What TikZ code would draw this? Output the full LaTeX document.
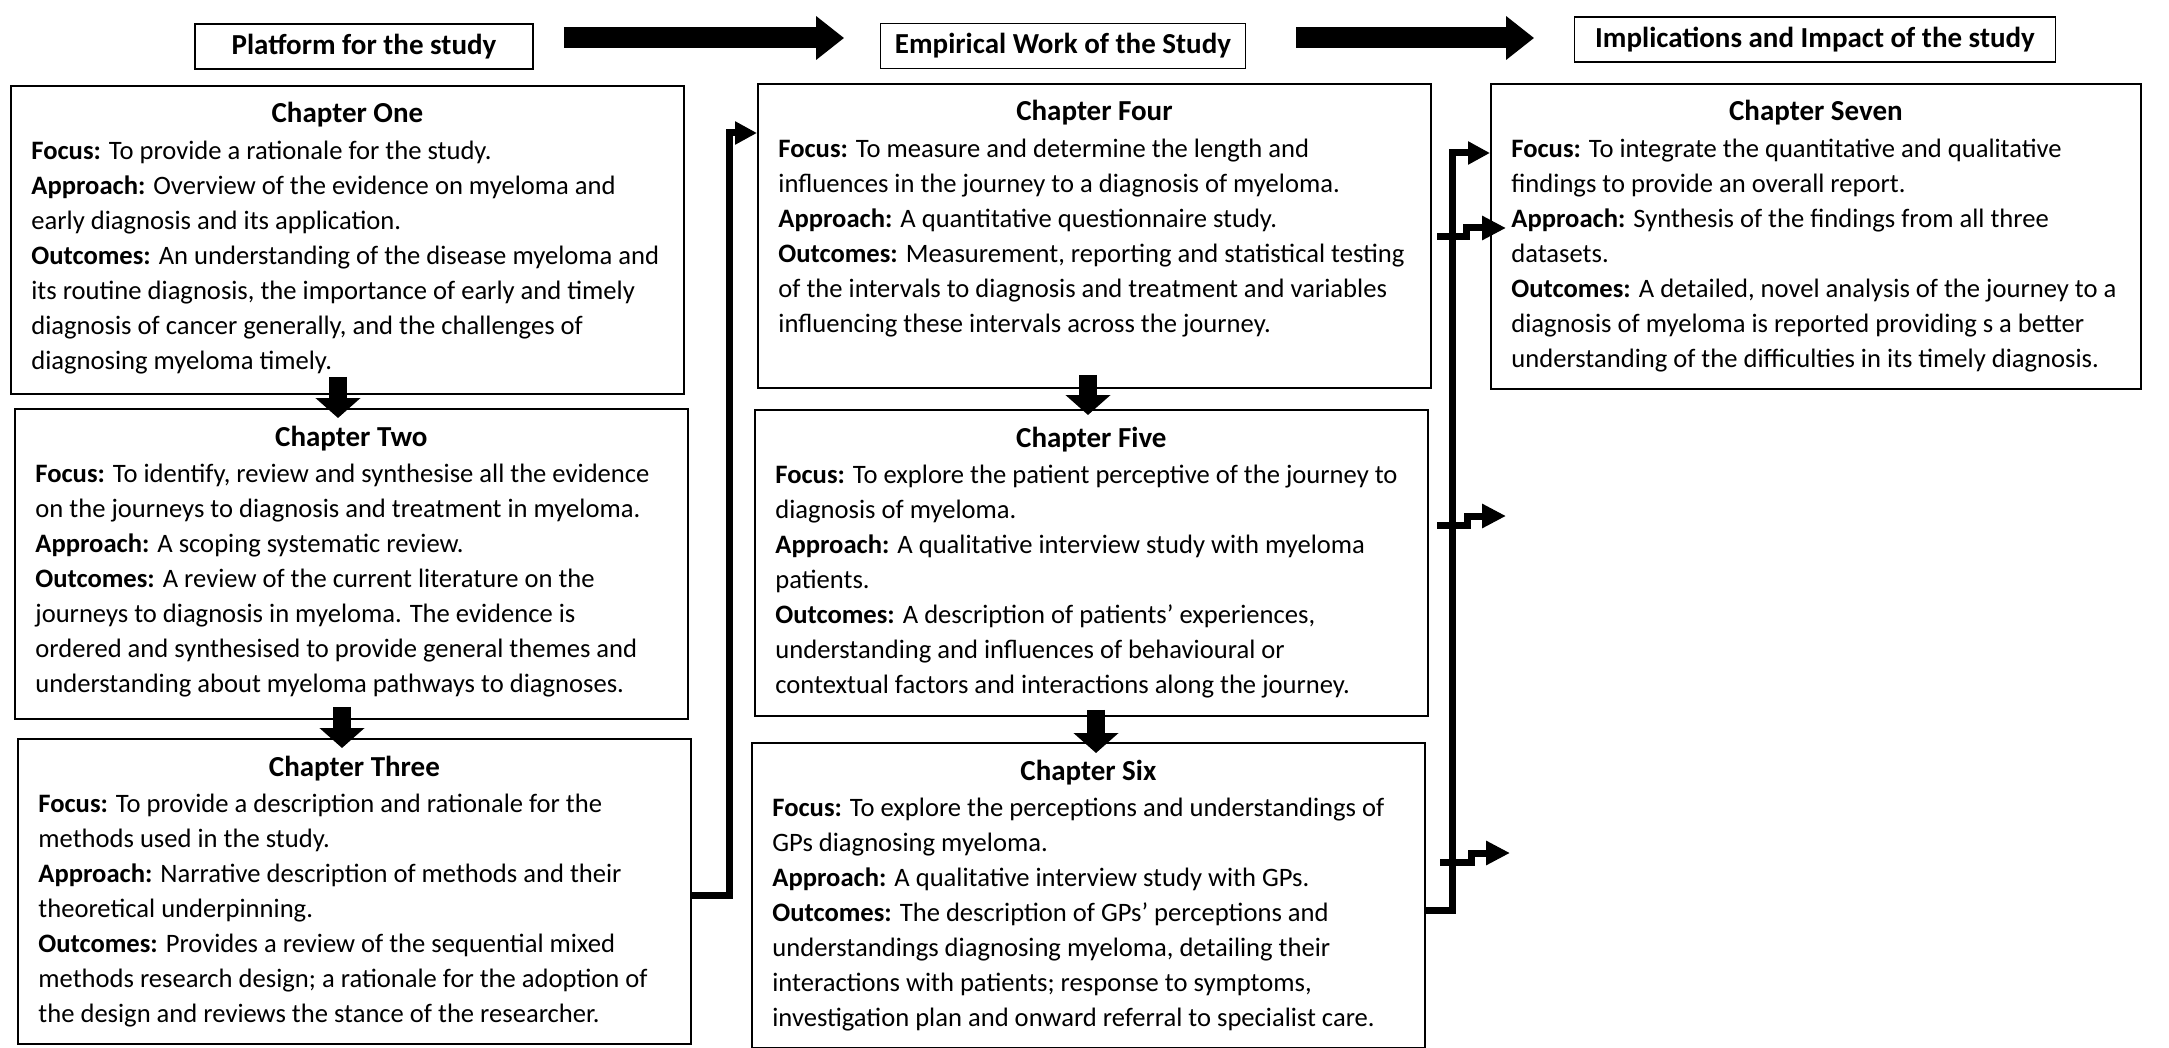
\documentclass[tikz,border=0pt]{standalone}
\usepackage{fontspec}
\setmainfont{Carlito}
\usetikzlibrary{arrows.meta}
\begin{document}
\begin{tikzpicture}[x=0.5pt,y=-0.5pt,
  hdr/.style={draw, line width=0.9pt, minimum height=22.5pt, font=\fontsize{14.5}{17}\selectfont\bfseries, inner sep=0pt},
  chbox/.style={draw, line width=0.9pt, minimum width=336.5pt, anchor=north west, inner sep=0pt},
  chtitle/.style={anchor=base, font=\fontsize{14.5}{17}\selectfont\bfseries, inner sep=0pt},
  chbody/.style={anchor=north west, align=left, font=\fontsize{13.3}{17.5}\selectfont, inner sep=0pt},
  conn/.style={line width=3.5pt, -{Triangle[length=11pt,width=11pt]}},
  brarrow/.style={line width=3.5pt, -{Triangle[length=12pt,width=11.5pt]}},
  blockdown/.style={line width=9pt, -{Triangle[length=10pt,width=22pt]}},
  blockright/.style={line width=10.5pt, -{Triangle[length=14pt,width=21pt]}},
]
\useasboundingbox[fill=white] (0,0) rectangle (2169,1048);

% header boxes
\node[hdr, minimum width=169pt] (plat) at (364,46.5) {Platform for the study};
\node[hdr, minimum width=182.5pt] (emp) at (1063,46) {Empirical Work of the Study};
\node[hdr, minimum width=240.5pt] (impl) at (1815,39.5) {Implications and Impact of the study};
\draw[blockright, shorten <=15pt, shorten >=17.75pt] (plat.east |- 0,38) -- (emp.west |- 0,38);
\draw[blockright, shorten <=25pt, shorten >=19.75pt] (emp.east |- 0,38) -- (impl.west |- 0,38);

% chapter boxes
\node[chbox, minimum height=154pt] (c1) at (10,85) {};
\node[chbox, minimum height=155pt] (c2) at (14,408) {};
\node[chbox, minimum height=152.5pt] (c3) at (17,738) {};
\node[chbox, minimum height=152pt] (c4) at (757,83) {};
\node[chbox, minimum height=153pt] (c5) at (754,409) {};
\node[chbox, minimum height=152.5pt] (c6) at (751,742) {};
\node[chbox, minimum height=152.5pt, minimum width=325pt] (c7) at (1490,83) {};

% titles
\node[chtitle] (c1t) at ([yshift=-19pt]c1.north) {Chapter One};
\node[chtitle] (c2t) at ([yshift=-19pt]c2.north) {Chapter Two};
\node[chtitle] (c3t) at ([yshift=-19pt]c3.north) {Chapter Three};
\node[chtitle] (c4t) at ([yshift=-19pt]c4.north) {Chapter Four};
\node[chtitle] (c5t) at ([yshift=-19pt]c5.north) {Chapter Five};
\node[chtitle] (c6t) at ([yshift=-19pt]c6.north) {Chapter Six};
\node[chtitle] (c7t) at ([yshift=-19pt]c7.north) {Chapter Seven};

% bodies
\node[chbody] (c1b) at ([xshift=10.5pt,yshift=-24.75pt]c1.north west) {\strut\textbf{Focus:} To provide a rationale for the study.\\
\textbf{Approach:} Overview of the evidence on myeloma and\\
early diagnosis and its application.\\
\textbf{Outcomes:} An understanding of the disease myeloma and\\
its routine diagnosis, the importance of early and timely\\
diagnosis of cancer generally, and the challenges of\\
diagnosing myeloma timely.};

\node[chbody] (c2b) at ([xshift=10.5pt,yshift=-24.75pt]c2.north west) {\strut\textbf{Focus:} To identify, review and synthesise all the evidence\\
on the journeys to diagnosis and treatment in myeloma.\\
\textbf{Approach:} A scoping systematic review.\\
\textbf{Outcomes:} A review of the current literature on the\\
journeys to diagnosis in myeloma. The evidence is\\
ordered and synthesised to provide general themes and\\
understanding about myeloma pathways to diagnoses.};

\node[chbody] (c3b) at ([xshift=10.5pt,yshift=-24.75pt]c3.north west) {\strut\textbf{Focus:} To provide a description and rationale for the\\
methods used in the study.\\
\textbf{Approach:} Narrative description of methods and their\\
theoretical underpinning.\\
\textbf{Outcomes:} Provides a review of the sequential mixed\\
methods research design; a rationale for the adoption of\\
the design and reviews the stance of the researcher.};

\node[chbody] (c4b) at ([xshift=10.5pt,yshift=-24.75pt]c4.north west) {\strut\textbf{Focus:} To measure and determine the length and\\
influences in the journey to a diagnosis of myeloma.\\
\textbf{Approach:} A quantitative questionnaire study.\\
\textbf{Outcomes:} Measurement, reporting and statistical testing\\
of the intervals to diagnosis and treatment and variables\\
influencing these intervals across the journey.};

\node[chbody] (c5b) at ([xshift=10.5pt,yshift=-24.75pt]c5.north west) {\strut\textbf{Focus:} To explore the patient perceptive of the journey to\\
diagnosis of myeloma.\\
\textbf{Approach:} A qualitative interview study with myeloma\\
patients.\\
\textbf{Outcomes:} A description of patients’ experiences,\\
understanding and influences of behavioural or\\
contextual factors and interactions along the journey.};

\node[chbody] (c6b) at ([xshift=10.5pt,yshift=-24.75pt]c6.north west) {\strut\textbf{Focus:} To explore the perceptions and understandings of\\
GPs diagnosing myeloma.\\
\textbf{Approach:} A qualitative interview study with GPs.\\
\textbf{Outcomes:} The description of GPs’ perceptions and\\
understandings diagnosing myeloma, detailing their\\
interactions with patients; response to symptoms,\\
investigation plan and onward referral to specialist care.};

\node[chbody] (c7b) at ([xshift=10.5pt,yshift=-24.75pt]c7.north west) {\strut\textbf{Focus:} To integrate the quantitative and qualitative\\
findings to provide an overall report.\\
\textbf{Approach:} Synthesis of the findings from all three\\
datasets.\\
\textbf{Outcomes:} A detailed, novel analysis of the journey to a\\
diagnosis of myeloma is reported providing s a better\\
understanding of the difficulties in its timely diagnosis.};

% down block arrows
\draw[blockdown, shorten <=-9pt, shorten >=-5pt] (c1.south -| 338,0) -- (c2.north -| 338,0);
\draw[blockdown, shorten <=-6.5pt, shorten >=-5pt] (c2.south -| 342,0) -- (c3.north -| 342,0);
\draw[blockdown, shorten <=-7pt, shorten >=-3pt] (c4.south -| 1088,0) -- (c5.north -| 1088,0);
\draw[blockdown, shorten <=-3.5pt, shorten >=-5.5pt] (c5.south -| 1096,0) -- (c6.north -| 1096,0);

% connector three -> four
\draw[conn] (c3.east |- 0,895) -| (729,133) -- (c4.west |- 0,133);

% connector six -> seven with branches
\draw[conn] (c6.east |- 0,910) -| (1452,153) -- (c7.west |- 0,153);
\coordinate (t1) at (1506,228);
\coordinate (t2) at (1506,516);
\coordinate (t3) at (1510,853);
\draw[brarrow] (1437,237) -- (1466,237) -- (1466,228) -- (t1);
\draw[brarrow] (1437,525) -- (1467,525) -- (1467,516) -- (t2);
\draw[brarrow] (1440,862) -- (1471,862) -- (1471,853) -- (t3);
\end{tikzpicture}
\end{document}
